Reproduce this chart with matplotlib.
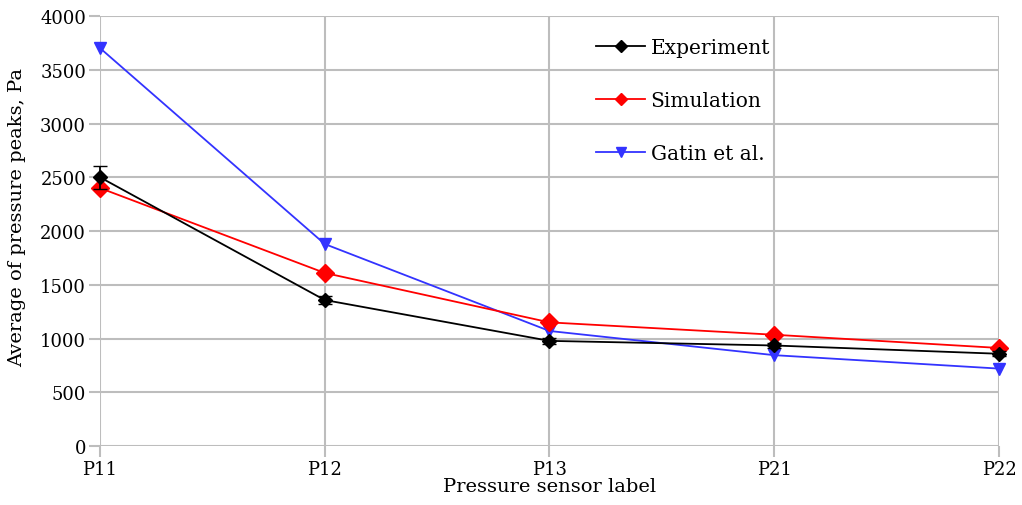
import matplotlib

matplotlib.use("Agg")
import matplotlib.pyplot as plt
from matplotlib.lines import Line2D
import numpy as np

sensors = ["P11", "P12", "P13", "P21", "P22"]
experiment = [2500, 1358, 978, 935, 858]
experiment_err = [105, 35, 25, 25, 25]
simulation = [2400, 1610, 1150, 1035, 912]
gatin = [3702, 1879, 1070, 845, 720]

GRID = "#bdbdbd"

plt.rcParams["font.family"] = ["DejaVu Serif"]
plt.rcParams["font.size"] = 13

fig = plt.figure(figsize=(10.22, 5.06), dpi=100)
ax = fig.add_axes([0.0978, 0.1166, 0.8797, 0.8498])

x = np.arange(len(sensors))
eb = ax.errorbar(x, experiment, yerr=experiment_err, color="black", lw=1.3,
                 marker="D", ms=7, capsize=5, elinewidth=1.3, zorder=4)
for artist in eb.get_children():
    artist.set_clip_on(False)
ax.plot(x, simulation, color="#ff0000", lw=1.3, marker="D", ms=9, zorder=3,
        clip_on=False)
ax.plot(x, gatin, color="#3333ff", lw=1.3, marker="v", ms=9, zorder=2,
        clip_on=False)

ax.set_xlim(0, len(sensors) - 1)
ax.set_ylim(0, 4000)
ax.set_xticks(x, sensors)
ax.set_yticks(np.arange(0, 4001, 500))
ax.grid(True, color=GRID, lw=1.5)
ax.set_axisbelow(True)
for spine in ax.spines.values():
    spine.set_visible(False)
ax.tick_params(color=GRID, width=1.5, length=8, pad=2)
ax.set_xlabel("Pressure sensor label", fontsize=14, labelpad=-1)
ax.set_ylabel("Average of pressure peaks, Pa", fontsize=14)
ax.yaxis.set_label_coords(-0.082, 0.533)

handles = [
    Line2D([], [], color="black", lw=1.3, marker="D", ms=6),
    Line2D([], [], color="#ff0000", lw=1.3, marker="D", ms=6.5),
    Line2D([], [], color="#3333ff", lw=1.3, marker="v", ms=7),
]
leg = ax.legend(handles, ["Experiment", "Simulation", "Gatin et al."],
                loc="upper left", bbox_to_anchor=(0.532, 0.99), frameon=False,
                fontsize=14.5, labelspacing=1.68, handlelength=2.4,
                handletextpad=0.3)
leg.set_zorder(5)

fig.savefig("out.png", dpi=100)
